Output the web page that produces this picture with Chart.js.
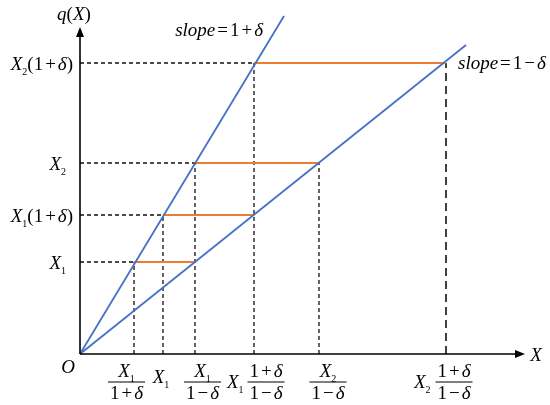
<!DOCTYPE html>
<html>
<head>
<meta charset="utf-8">
<style>
  body { margin: 0; background: #fff; }
  #wrap { width: 550px; height: 405px; }
</style>
<script src="https://cdn.jsdelivr.net/npm/chart.js@4"></script>
</head>
<body>
<div id="wrap"><canvas id="c" width="550" height="405"></canvas></div>
<script>
// q(X) levels (arbitrary units)
const levelNames = ['X1', 'X1(1+δ)', 'X2', 'X2(1+δ)'];
const levels = [92, 139, 191, 291];
// where each level hits the steep (1+δ) and the flat (1-δ) line
const steepHit = [54, 83, 115, 174];
const flatHit = [115, 174, 239, 366];
// end points of the two slope lines
const steepEnd = [204, 338];
const flatEnd = [386, 309];
// x-axis marks: X1/(1+δ), X1, X1/(1-δ), X1(1+δ)/(1-δ), X2/(1-δ), X2(1+δ)/(1-δ)
const xTicks = [54, 83, 115, 174, 239, 366];
const xTickTops = [92, 139, 191, 291, 191, 291];

const BLUE = '#4472C4';
const ORANGE = '#ED7D31';
const FONT = '"Liberation Serif", "Times New Roman", serif';

function seg(x0, y0, x1, y1) {
  return [{ x: x0, y: y0 }, { x: x1, y: y1 }];
}
function lineSet(data, color, width, dash) {
  return {
    data: data, showLine: true, borderColor: color, borderWidth: width,
    borderDash: dash || [], pointRadius: 0, fill: false, clip: false, tension: 0
  };
}

const datasets = [];
// blue lines on top (dataset 0 is drawn last)
datasets.push(lineSet(seg(0, 0, steepEnd[0], steepEnd[1]), BLUE, 1.8));
datasets.push(lineSet(seg(0, 0, flatEnd[0], flatEnd[1]), BLUE, 1.8));
// orange segments between the two lines
levels.forEach((lv, i) => {
  datasets.push(lineSet(seg(steepHit[i], lv, flatHit[i], lv), ORANGE, 2));
});
// dashed guides to the q(X) axis
levels.forEach((lv, i) => {
  datasets.push(lineSet(seg(0, lv, steepHit[i], lv), '#111', 1.3, [4, 3]));
});
// dashed drops to the X axis
xTicks.forEach((xv, i) => {
  const last = i === xTicks.length - 1;
  datasets.push(lineSet(seg(xv, 0, xv, xTickTops[i]),
    last ? '#404040' : '#111', last ? 2 : 1.3, last ? [8, 5] : [4, 3]));
});

// --- little math text helpers ---
// parts are [text, kind]: 'i' italic, 'n' upright, 's' subscript, 'g' gap of p[2] px
function partFont(kind) {
  if (kind === 'i') return 'italic 19px ' + FONT;
  if (kind === 's') return '10px ' + FONT;
  return '19px ' + FONT;
}
function partW(ctx, p) {
  if (p[1] === 'g') return p[2];
  ctx.font = partFont(p[1]);
  return ctx.measureText(p[0]).width;
}
function partsWidth(ctx, parts) {
  return parts.reduce((s, p) => s + partW(ctx, p), 0);
}
function drawParts(ctx, parts, x, y, align) {
  const w = partsWidth(ctx, parts);
  let cx = align === 'right' ? x - w : align === 'center' ? x - w / 2 : x;
  ctx.textAlign = 'left';
  ctx.textBaseline = 'alphabetic';
  parts.forEach(p => {
    const pw = partW(ctx, p);
    if (p[1] !== 'g') ctx.fillText(p[0], cx, p[1] === 's' ? y + 5 : y);
    cx += pw;
  });
  return w;
}
function drawFrac(ctx, num, den, cx, ly) {
  const w = Math.max(partsWidth(ctx, num), partsWidth(ctx, den)) + 4;
  drawParts(ctx, num, cx, ly - 5, 'center');
  drawParts(ctx, den, cx, ly + 17, 'center');
  ctx.fillRect(cx - w / 2, ly - 0.5, w, 1);
  return w;
}

const G = ['', 'g', 2];
const X1 = [['X', 'i'], ['1', 's']];
const X2 = [['X', 'i'], ['2', 's']];
const ONE_PLUS = [['1', 'n'], G, ['+', 'n'], G, ['δ', 'i']];
const ONE_MINUS = [['1', 'n'], G, ['−', 'n'], G, ['δ', 'i']];
const PAREN = [['(1', 'n'], G, ['+', 'n'], G, ['δ', 'i'], [')', 'n']];

const overlay = {
  id: 'overlay',
  afterDatasetsDraw(chart) {
    const ctx = chart.ctx;
    const sx = chart.scales.x, sy = chart.scales.y;
    const ox = sx.getPixelForValue(0), oy = sy.getPixelForValue(0);
    const xEnd = sx.getPixelForValue(sx.max), yEnd = sy.getPixelForValue(sy.max);
    ctx.save();
    ctx.fillStyle = '#000';
    ctx.strokeStyle = '#000';
    ctx.lineWidth = 1.6;
    // axes with arrow heads
    ctx.beginPath();
    ctx.moveTo(ox, oy); ctx.lineTo(xEnd - 6, oy);
    ctx.moveTo(ox, oy); ctx.lineTo(ox, yEnd + 6);
    ctx.stroke();
    ctx.beginPath();
    ctx.moveTo(xEnd, oy); ctx.lineTo(xEnd - 10, oy - 4); ctx.lineTo(xEnd - 10, oy + 4); ctx.closePath();
    ctx.moveTo(ox, yEnd); ctx.lineTo(ox - 4, yEnd + 10); ctx.lineTo(ox + 4, yEnd + 10); ctx.closePath();
    ctx.fill();

    // axis names
    drawParts(ctx, [['q', 'i'], ['(', 'n'], ['X', 'i'], [')', 'n']], ox - 6, yEnd - 7, 'center');
    drawParts(ctx, [['X', 'i']], xEnd + 11, oy + 7, 'center');
    drawParts(ctx, [['O', 'i']], ox - 12, oy + 19, 'center');

    // level labels on the q(X) axis
    const yLabels = [X1, X1.concat(PAREN), X2, X2.concat(PAREN)];
    levels.forEach((lv, i) => {
      const py = sy.getPixelForValue(lv);
      const hasParen = yLabels[i].length > 2;
      drawParts(ctx, yLabels[i], hasParen ? ox - 7 : ox - 14, py + 7, 'right');
    });

    // slope labels next to the line ends
    const sEnd = [sx.getPixelForValue(steepEnd[0]), sy.getPixelForValue(steepEnd[1])];
    drawParts(ctx, [['slope', 'i'], G, ['=', 'n'], G].concat(ONE_PLUS), sEnd[0] - 21, sEnd[1] + 20, 'right');
    const fy = sy.getPixelForValue(levels[3]);
    drawParts(ctx, [['slope', 'i'], G, ['=', 'n'], G].concat(ONE_MINUS), sx.getPixelForValue(flatHit[3]) + 12, fy + 6, 'left');

    // x-axis labels
    const ly = oy + 28;
    const px = xTicks.map(v => sx.getPixelForValue(v));
    drawFrac(ctx, X1, ONE_PLUS, px[0] - 7.5, ly);
    drawParts(ctx, X1, px[1] - 2, ly + 1, 'center');
    drawFrac(ctx, X1, ONE_MINUS, px[2] + 7.5, ly);
    drawParts(ctx, X1, px[3] - 27, ly + 6, 'left');
    drawFrac(ctx, ONE_PLUS, ONE_MINUS, px[3] + 12, ly);
    drawFrac(ctx, X2, ONE_MINUS, px[4] + 9, ly);
    drawParts(ctx, X2, px[5] - 32, ly + 6, 'left');
    drawFrac(ctx, ONE_PLUS, ONE_MINUS, px[5] + 8, ly);
    ctx.restore();
  }
};

new Chart(document.getElementById('c'), {
  type: 'scatter',
  data: { datasets: datasets },
  options: {
    responsive: false,
    animation: false,
    layout: { padding: { left: 80, right: 25, top: 27, bottom: 51 } },
    scales: {
      x: { type: 'linear', display: false, min: 0, max: 445 },
      y: { type: 'linear', display: false, min: 0, max: 327 }
    },
    plugins: { legend: { display: false }, tooltip: { enabled: false } }
  },
  plugins: [overlay]
});
</script>
</body>
</html>
